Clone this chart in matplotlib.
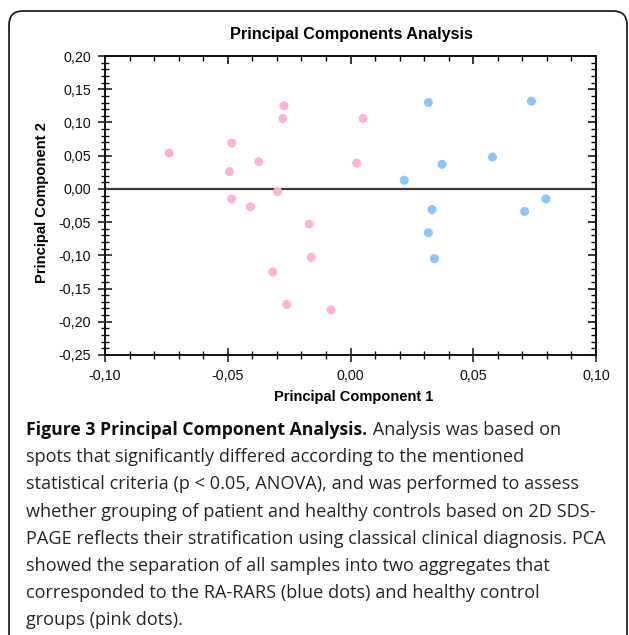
import matplotlib
matplotlib.use("Agg")
import matplotlib.pyplot as plt
from matplotlib.patches import FancyBboxPatch
from matplotlib.ticker import MultipleLocator, FuncFormatter

# ---- data ----
healthy_pc1 = [-0.0739, -0.0484, -0.0493, -0.0374, -0.0271, -0.0276, 0.0051, 0.0025,
               -0.0297, -0.0484, -0.0408, -0.0168, -0.0160, -0.0317, -0.0260, -0.0080]
healthy_pc2 = [0.054, 0.069, 0.026, 0.041, 0.125, 0.106, 0.106, 0.039,
               -0.004, -0.015, -0.027, -0.053, -0.103, -0.125, -0.174, -0.182]
rars_pc1 = [0.0317, 0.0737, 0.0219, 0.0373, 0.0578, 0.0796, 0.0332, 0.0709, 0.0317, 0.0342]
rars_pc2 = [0.130, 0.132, 0.013, 0.037, 0.048, -0.015, -0.031, -0.034, -0.066, -0.105]

title = "Principal Components Analysis"
xlabel = "Principal Component 1"
ylabel = "Principal Component 2"
caption_bold = "Figure 3 Principal Component Analysis."
caption_lines = [
    " Analysis was based on",
    "spots that significantly differed according to the mentioned",
    "statistical criteria (p < 0.05, ANOVA), and was performed to assess",
    "whether grouping of patient and healthy controls based on 2D SDS-",
    "PAGE reflects their stratification using classical clinical diagnosis. PCA",
    "showed the separation of all samples into two aggregates that",
    "corresponded to the RA-RARS (blue dots) and healthy control",
    "groups (pink dots).",
]

W, H = 629, 635
fig = plt.figure(figsize=(W / 100, H / 100), dpi=100)

# rounded frame
frame = FancyBboxPatch((9 / W, 1 - 660 / H), 618 / W, 649 / H,
                       boxstyle="round,pad=0,rounding_size=0.022",
                       transform=fig.transFigure, fill=False,
                       edgecolor="#222222", linewidth=1.3, clip_on=False)
fig.patches.append(frame)

ax = fig.add_axes([105 / W, 1 - 355 / H, (596 - 105) / W, (355 - 56) / H])
chart_font = "Liberation Sans"

ax.scatter(healthy_pc1, healthy_pc2, s=42, color="#FFB3DA", edgecolors="none", zorder=3)
ax.scatter(rars_pc1, rars_pc2, s=42, color="#8EC5F9", edgecolors="none", zorder=3)
ax.axhline(0, color="#3a3a3a", lw=1.6, zorder=2)

ax.set_xlim(-0.10, 0.10)
ax.set_ylim(-0.25, 0.20)
ax.xaxis.set_major_locator(MultipleLocator(0.05))
ax.xaxis.set_minor_locator(MultipleLocator(0.01))
ax.yaxis.set_major_locator(MultipleLocator(0.05))
ax.yaxis.set_minor_locator(MultipleLocator(0.01))
fmt = FuncFormatter(lambda v, p: f"{v:.2f}".replace(".", ",").replace("-0,00", "0,00"))
ax.xaxis.set_major_formatter(fmt)
ax.yaxis.set_major_formatter(fmt)

for s in ax.spines.values():
    s.set_linewidth(1.4)
    s.set_color("#111111")

ax.tick_params(which="major", direction="inout", length=9.4, width=1.1, colors="#111111",
               labelsize=10.3)
ax.tick_params(axis="y", which="major", pad=5.5)
ax.tick_params(axis="x", which="major", pad=5.5)
ax.tick_params(which="minor", direction="inout", length=5.6, width=1.0, colors="#111111")
for lab in ax.get_xticklabels() + ax.get_yticklabels():
    lab.set_fontfamily(chart_font)

top = ax.secondary_xaxis("top")
top.xaxis.set_major_locator(MultipleLocator(0.05))
top.xaxis.set_minor_locator(MultipleLocator(0.01))
top.tick_params(which="major", direction="in", length=6, width=1.1, labeltop=False)
top.tick_params(which="minor", direction="in", length=3.5, width=1.0)
top.spines["top"].set_linewidth(1.4)
right = ax.secondary_yaxis("right")
right.yaxis.set_major_locator(MultipleLocator(0.05))
right.yaxis.set_minor_locator(MultipleLocator(0.01))
right.tick_params(which="major", direction="in", length=6, width=1.1, labelright=False)
right.tick_params(which="minor", direction="in", length=3.5, width=1.0)
right.spines["right"].set_linewidth(1.4)

fig.text(351 / W, 1 - 34 / H, title, ha="center", va="center", fontsize=11.7,
         fontweight="bold", family=chart_font)
fig.text(354 / W, 1 - 397 / H, xlabel, ha="center", va="center", fontsize=10.5,
         fontweight="bold", family=chart_font)
fig.text(42 / W, 1 - 203 / H, ylabel, ha="center", va="center", fontsize=10.7,
         fontweight="bold", family=chart_font, rotation=90)

# caption
cap_font = "Open Sans"
bold_size = 12.7
cap_size = 13.1
x0 = 26 / W
y_first = 1 - 435 / H
line_h = 27.2 / H
fig.canvas.draw()
r = fig.canvas.get_renderer()
tb = fig.text(x0, y_first, caption_bold, ha="left", va="baseline", fontsize=bold_size,
              fontweight="bold", family=cap_font, color="#111111")
bb = tb.get_window_extent(renderer=r)
fig.text(bb.x1 / W + 1 / W, y_first, caption_lines[0], ha="left", va="baseline",
         fontsize=cap_size, family=cap_font, color="#262626")
for i, line in enumerate(caption_lines[1:], start=1):
    fig.text(x0, y_first - i * line_h, line, ha="left", va="baseline", fontsize=cap_size,
             family=cap_font, color="#262626")

fig.savefig("out.png", dpi=100)
